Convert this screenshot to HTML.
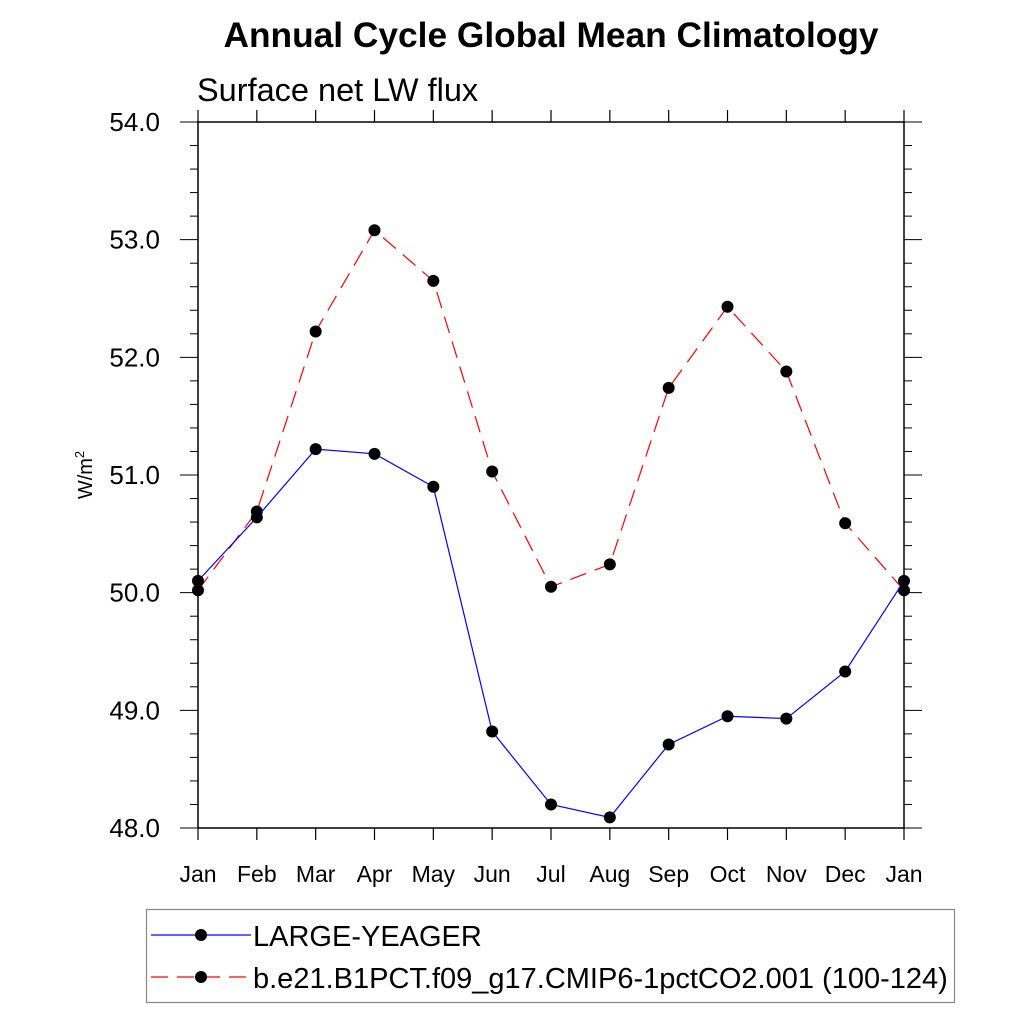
<!DOCTYPE html>
<html><head><meta charset="utf-8"><style>
body{margin:0;background:#fff;}
svg text{font-family:"Liberation Sans",sans-serif;}
</style></head><body>
<svg id="chart" width="1024" height="1024" xmlns="http://www.w3.org/2000/svg">
<text x="551" y="47" font-size="35.3" font-weight="bold" text-anchor="middle">Annual Cycle Global Mean Climatology</text>
<text x="197" y="101" font-size="32.5">Surface net LW flux</text>
<text transform="translate(92,475) rotate(-90)" font-size="20" text-anchor="middle">W/m<tspan dy="-8" font-size="13">2</tspan></text>
<g id="axes"></g>
<g id="series"></g>
<g>
<rect x="146.5" y="909.5" width="808" height="93" fill="none" stroke="#888" stroke-width="1.2"/>
<line x1="151" y1="935" x2="251" y2="935" stroke="#0000ff" stroke-width="1.2"/>
<circle cx="201" cy="935" r="6" fill="#000"/>
<text x="253" y="946" font-size="29">LARGE-YEAGER</text>
<line x1="151" y1="977" x2="251" y2="977" stroke="#ff0000" stroke-width="1.2" stroke-dasharray="17,9"/>
<circle cx="201" cy="977" r="6" fill="#000"/>
<text x="253" y="988" font-size="29">b.e21.B1PCT.f09_g17.CMIP6-1pctCO2.001 (100-124)</text>
</g>
</svg>
<script>
const months=["Jan","Feb","Mar","Apr","May","Jun","Jul","Aug","Sep","Oct","Nov","Dec","Jan"];
const largeYeager=[50.10,50.64,51.22,51.18,50.90,48.82,48.20,48.09,48.71,48.95,48.93,49.33,50.10];
const pctCO2=[50.02,50.69,52.22,53.08,52.65,51.03,50.05,50.24,51.74,52.43,51.88,50.59,50.02];
const yTicks=["48.0","49.0","50.0","51.0","52.0","53.0","54.0"];
const X0=198,X1=904,Y0=828,Y1=122,YMIN=48,YMAX=54;
const xs=i=>X0+(X1-X0)*i/(months.length-1);
const ys=v=>Y0-(v-YMIN)/(YMAX-YMIN)*(Y0-Y1);
const NS="http://www.w3.org/2000/svg";
function mk(tag,attrs,parent){const e=document.createElementNS(NS,tag);for(const k in attrs)e.setAttribute(k,attrs[k]);parent.appendChild(e);return e;}
const ax=document.getElementById('axes');
const frame=mk('rect',{x:X0,y:Y1,width:X1-X0,height:Y0-Y1,fill:'none',stroke:'#000','stroke-width':1.5},ax);


months.forEach((m,i)=>{const x=xs(i);
 mk('line',{x1:x,y1:Y0,x2:x,y2:Y0+12,stroke:'#000','stroke-width':1.2},ax);
 mk('line',{x1:x,y1:Y1,x2:x,y2:Y1-12,stroke:'#000','stroke-width':1.2},ax);
 const t=mk('text',{x:x,y:882,'font-size':23,'text-anchor':'middle'},ax);t.textContent=m;
 
 
});
for(let k=0;k<=30;k++){const v=YMIN+k*0.2,y=ys(v),maj=k%5===0,L=maj?18:8;
 mk('line',{x1:X0,y1:y,x2:X0-L,y2:y,stroke:'#000','stroke-width':1},ax);
 mk('line',{x1:X1,y1:y,x2:X1+L,y2:y,stroke:'#000','stroke-width':1},ax);
}
yTicks.forEach(s=>{const t=mk('text',{x:160,y:ys(parseFloat(s))+9,'font-size':26,'text-anchor':'end'},ax);t.textContent=s;
 
 
});
const sg=document.getElementById('series');
function series(vals,color,dash,name){
 const pl=mk('polyline',{points:vals.map((v,i)=>xs(i)+','+ys(v)).join(' '),fill:'none',stroke:color,'stroke-width':1.2,'stroke-dasharray':dash},sg);
 
 
 vals.forEach((v,i)=>{const c=mk('circle',{cx:xs(i),cy:ys(v),r:6,fill:'#000'},sg);
  
  });
}
series(pctCO2,'#ff0000','17,9','pctco2');
series(largeYeager,'#0000ff','none','large-yeager');
</script>
</body></html>
